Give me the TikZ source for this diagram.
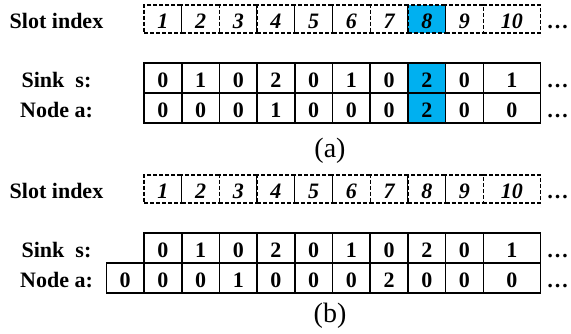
\documentclass[tikz,border=0pt]{standalone}
\usepackage{fontspec}
\setmainfont{Liberation Serif}
\usepackage{xcolor}
\usetikzlibrary{positioning}
\definecolor{SBlue}{HTML}{00B0F0}
\definecolor{SInk}{HTML}{000000}

\begin{document}
\begin{tikzpicture}[x=1pt, y=-1pt,
  every node/.style={font=\fontsize{22}{26}\selectfont\bfseries, text=SInk,
                     inner sep=0pt, outer sep=0pt, text height=18pt, text depth=0pt},
  slotcell/.style={draw=SInk, dash pattern=on 4pt off 2pt, line width=1.3pt,
                   minimum height=28pt, font=\fontsize{22}{26}\selectfont\bfseries\itshape},
  bitcell/.style={draw=SInk, line width=1.6pt, minimum height=30pt},
  rowname/.style={anchor=center},
  more/.style={anchor=center},
  caption/.style={font=\fontsize{28}{32}\selectfont}]
\useasboundingbox (0,0) rectangle (571,333);
\node[rowname] (slotA) at (56.5, 19)  {Slot index};
\node[rowname] (sinkA) at (56.5, 78)  {Sink~~s:};
\node[rowname] (nodeA) at (56.5,108)  {Node a:};
\node[rowname] (slotB) at (56.5,189)  {Slot index};
\node[rowname] (sinkB) at (56.5,248)  {Sink~~s:};
\node[rowname] (nodeB) at (56.5,278)  {Node a:};
\foreach \i/\s/\a/\b in {1/0/0/0, 2/1/0/0, 3/0/0/1, 4/2/1/0, 5/0/0/0,
                         6/1/0/0, 7/0/0/2, 8/2/2/0, 9/0/0/0, 10/1/0/0} {
  \pgfmathsetmacro\cx{\i<10 ? 144+(\i-0.5)*37.7 : 511.8}
  \pgfmathsetmacro\cw{\i<10 ? 37.7 : 57}
  \ifnum\i=8 \def\hl{SBlue}\else\def\hl{white}\fi
  \node[slotcell, fill=\hl, minimum width=\cw pt] (ta\i) at (\cx, 19) {\i};
  \node[bitcell,  fill=\hl, minimum width=\cw pt] (sa\i) at (\cx, 78) {\s};
  \node[bitcell,  fill=\hl, minimum width=\cw pt] (na\i) at (\cx,108) {\a};
  \node[slotcell, fill=white, minimum width=\cw pt] (tb\i) at (\cx,189) {\i};
  \node[bitcell,  fill=white, minimum width=\cw pt] (sb\i) at (\cx,248) {\s};
  \node[bitcell,  fill=white, minimum width=\cw pt] (nb\i) at (\cx,278) {\b};
}
\node[bitcell, fill=white, minimum width=37.7pt] (nb0) at (125.15,278) {0};
\foreach \r/\y in {ta/19, sa/78, na/108, tb/189, sb/248, nb/278}
  {\node[more] (\r more) at (557.5,\y) {…};}
\node[caption] (capA) at (330,148) {(a)};
\node[caption] (capB) at (330,313) {(b)};
\end{tikzpicture}
\end{document}
